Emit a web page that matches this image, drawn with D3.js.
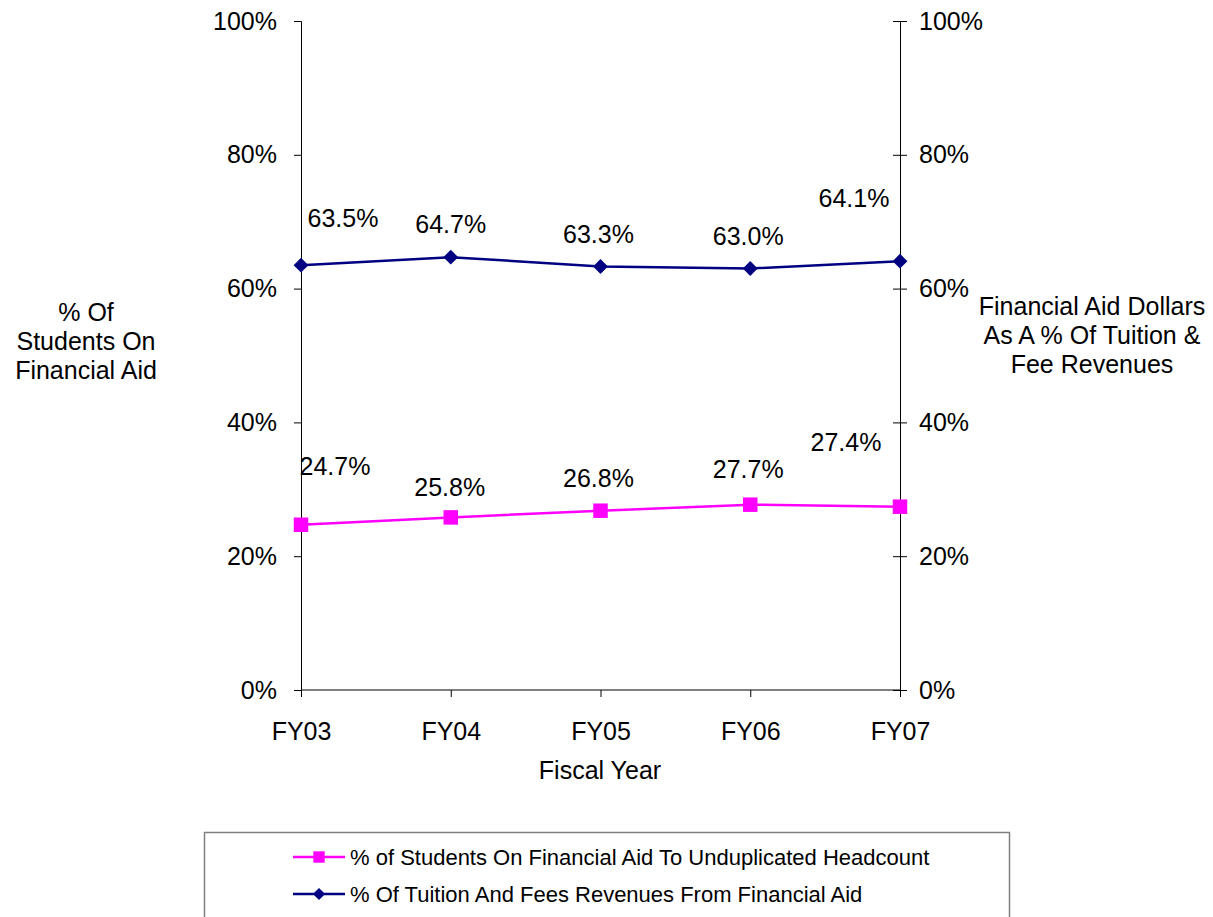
<!DOCTYPE html>
<html>
<head>
<meta charset="utf-8">
<title>Financial Aid</title>
<script src="https://cdn.jsdelivr.net/npm/d3@7"></script>
<style>
  body { margin: 0; background: #fff; }
  text { font-family: "Liberation Sans", Arial, sans-serif; fill: #000; }
</style>
</head>
<body>
<script>
// data
var years = ["FY03", "FY04", "FY05", "FY06", "FY07"];
var studentsPct = [24.7, 25.8, 26.8, 27.7, 27.4];
var tuitionPct = [63.5, 64.7, 63.3, 63.0, 64.1];
var yTicks = [0, 20, 40, 60, 80, 100];
var seriesNames = ["% of Students On Financial Aid To Unduplicated Headcount",
                   "% Of Tuition And Fees Revenues From Financial Aid"];

// label nudges (layout only)
var studentLabelOff = [[34, -59], [-1, -30], [-2, -32], [-2, -35], [-54, -64]];
var tuitionLabelOff = [[42, -47], [0, -33], [-2, -32], [-2, -32], [-46, -63]];

var W = 1213, H = 917;
var pLeft = 301, pRight = 900, pTop = 21, pBottom = 690;
var fs = "25px";

var svg = d3.select("body").append("svg")
  .attr("width", W).attr("height", H);

var x = d3.scalePoint().domain(years).range([pLeft, pRight]);
var y = d3.scaleLinear().domain([0, 100]).range([pBottom, pTop]);
var fmt = function(d) { return d + "%"; };

// left axis
svg.append("g").attr("transform", "translate(" + pLeft + ",0)")
  .call(d3.axisLeft(y).tickValues(yTicks).tickFormat(fmt).tickSize(7).tickPadding(17))
  .call(function(g) {
    g.select(".domain").attr("stroke", "#000");
    g.selectAll(".tick line").attr("stroke", "#000");
    g.selectAll("text").style("font-size", fs).attr("fill", "#000");
  });

// right axis, ticks cross the line
var ra = svg.append("g").attr("transform", "translate(" + pRight + ",0)")
  .call(d3.axisRight(y).tickValues(yTicks).tickFormat(fmt).tickSize(7).tickPadding(12));
ra.select(".domain").attr("stroke", "#000");
ra.selectAll(".tick line").attr("x1", -7).attr("stroke", "#000");
ra.selectAll("text").style("font-size", fs).attr("fill", "#000");

// x axis
svg.append("g").attr("transform", "translate(0," + pBottom + ")")
  .call(d3.axisBottom(x).tickSize(7).tickPadding(25).tickSizeOuter(0))
  .call(function(g) {
    g.select(".domain").attr("stroke", "#000").attr("d", "M" + pLeft + ",0H" + pRight);
    g.selectAll(".tick line").attr("stroke", "#000");
    g.selectAll("text").style("font-size", fs).attr("fill", "#000");
  });

// axis titles
svg.append("text").attr("x", 600).attr("y", 779).attr("text-anchor", "middle")
  .style("font-size", fs).text("Fiscal Year");

var lt = svg.append("text").attr("text-anchor", "middle").style("font-size", fs);
["% Of", "Students On", "Financial Aid"].forEach(function(s, i) {
  lt.append("tspan").attr("x", 86).attr("y", 321 + i * 29).text(s);
});
var rt = svg.append("text").attr("text-anchor", "middle").style("font-size", fs);
["Financial Aid Dollars", "As A % Of Tuition &", "Fee Revenues"].forEach(function(s, i) {
  rt.append("tspan").attr("x", 1092).attr("y", 315 + i * 29).text(s);
});

var line = d3.line().x(function(d, i) { return x(years[i]); }).y(function(d) { return y(d); });

function drawSeries(vals, color, rotate, size, offs) {
  svg.append("path").datum(vals).attr("d", line)
    .attr("fill", "none").attr("stroke", color).attr("stroke-width", 2.5);
  svg.selectAll(null).data(vals).enter().append("path")
    .attr("d", d3.symbol().type(d3.symbolSquare).size(size))
    .attr("transform", function(d, i) {
      return "translate(" + x(years[i]) + "," + y(d) + ")" + (rotate ? " rotate(45)" : "");
    })
    .attr("fill", color);
  svg.selectAll(null).data(vals).enter().append("text")
    .attr("x", function(d, i) { return x(years[i]) + offs[i][0]; })
    .attr("y", function(d, i) { return y(d) + offs[i][1]; })
    .attr("dy", "0.35em").attr("text-anchor", "middle")
    .style("font-size", fs)
    .text(function(d) { return d.toFixed(1) + "%"; });
}

drawSeries(studentsPct, "#ff00ff", false, 210, studentLabelOff);
drawSeries(tuitionPct, "#000080", true, 110, tuitionLabelOff);

// legend
svg.append("rect").attr("x", 204.5).attr("y", 832.5).attr("width", 805).attr("height", 100)
  .attr("fill", "#fff").attr("stroke", "#808080").attr("stroke-width", 1.5);
var legendY = [857, 894];
var legendColors = ["#ff00ff", "#000080"];
seriesNames.forEach(function(name, i) {
  var g = svg.append("g").attr("transform", "translate(0," + legendY[i] + ")");
  g.append("line").attr("x1", 293).attr("x2", 345).attr("y1", 0).attr("y2", 0)
    .attr("stroke", legendColors[i]).attr("stroke-width", 2.5);
  g.append("path")
    .attr("d", d3.symbol().type(d3.symbolSquare).size(i === 0 ? 130 : 75))
    .attr("transform", "translate(319,0)" + (i === 1 ? " rotate(45)" : ""))
    .attr("fill", legendColors[i]);
  g.append("text").attr("x", 350).attr("dy", "0.35em").style("font-size", "22px").text(name);
});
</script>
</body>
</html>
